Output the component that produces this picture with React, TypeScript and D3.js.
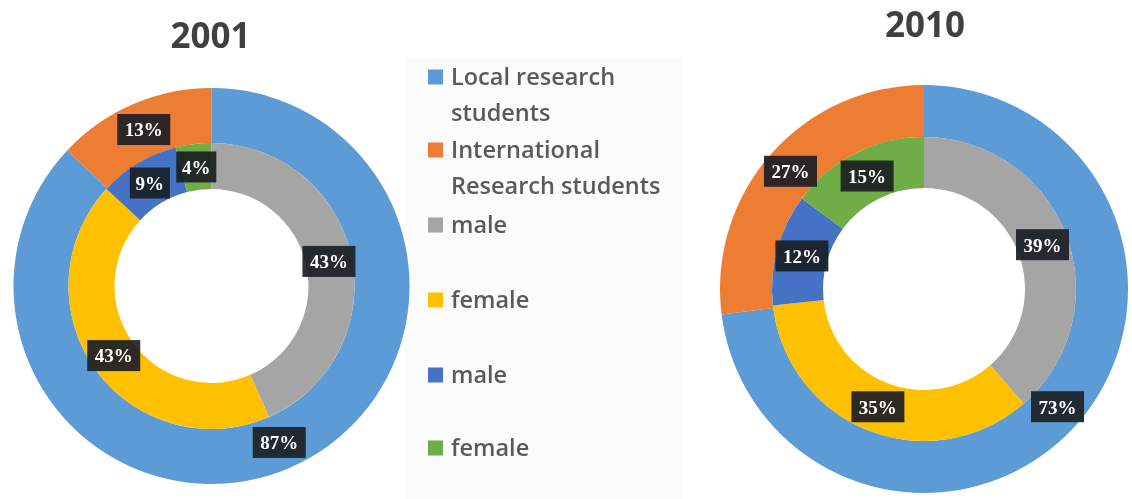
import React from "react";
import * as d3 from "d3";

const years = ["2001", "2010"];
const outerCategories = ["Local research students", "International Research students"];
const innerCategories = ["male", "female", "male", "female"];
const outer2001 = [87, 13];
const inner2001 = [43, 43, 9, 4];
const outer2010 = [73, 27];
const inner2010 = [39, 35, 12, 15];

const outerColors = ["#5B9BD5", "#ED7D31"];
const innerColors = ["#A5A5A5", "#FFC000", "#4472C4", "#70AD47"];

const legendLines = [
  { label: ["Local research", "students"], color: outerColors[0] },
  { label: ["International", "Research students"], color: outerColors[1] },
  { label: ["male"], color: innerColors[0] },
  { label: ["female"], color: innerColors[1] },
  { label: ["male"], color: innerColors[2] },
  { label: ["female"], color: innerColors[3] },
];

type Geo = { cx: number; cy: number; r0: number; r1: number; r2: number; tx: number; ty: number };

const charts: { year: string; outer: number[]; inner: number[]; g: Geo }[] = [
  { year: years[0], outer: outer2001, inner: inner2001, g: { cx: 211.5, cy: 286, r0: 97, r1: 143, r2: 198, tx: 210.5, ty: 48 } },
  { year: years[1], outer: outer2010, inner: inner2010, g: { cx: 924, cy: 289, r0: 101, r1: 152, r2: 204, tx: 925, ty: 37 } },
];

const pie = d3.pie<number>().sort(null).value((d) => d);

function Label({ x, y, text }: { x: number; y: number; text: string }) {
  const w = text.length * 13 + 14;
  const h = 31;
  return (
    <g transform={`translate(${x},${y})`}>
      <rect x={-w / 2} y={-h / 2} width={w} height={h} fill="#1c1f24" fillOpacity={0.92} />
      <text
        x={0}
        y={0}
        dy="0.36em"
        textAnchor="middle"
        fill="#ffffff"
        fontFamily="'Liberation Serif', serif"
        fontWeight="bold"
        fontSize={19}
      >
        {text}
      </text>
    </g>
  );
}

function Donut({ year, outer, inner, g }: { year: string; outer: number[]; inner: number[]; g: Geo }) {
  const outerArc = d3.arc<d3.PieArcDatum<number>>().innerRadius(g.r1).outerRadius(g.r2);
  const innerArc = d3.arc<d3.PieArcDatum<number>>().innerRadius(g.r0).outerRadius(g.r1);
  const oArcs = pie(outer);
  const iArcs = pie(inner);
  return (
    <g>
      <text
        x={g.tx}
        y={g.ty}
        textAnchor="middle"
        fontFamily="'Open Sans', sans-serif"
        fontWeight="bold"
        fontSize={35}
        fill="#404040"
      >
        {year}
      </text>
      <g transform={`translate(${g.cx},${g.cy})`}>
        {oArcs.map((a, i) => (
          <path key={"o" + i} d={outerArc(a) || ""} fill={outerColors[i]} />
        ))}
        {iArcs.map((a, i) => (
          <path key={"i" + i} d={innerArc(a) || ""} fill={innerColors[i]} />
        ))}
        {oArcs.map((a, i) => {
          const [x, y] = outerArc.centroid(a);
          return <Label key={"ol" + i} x={x} y={y} text={`${outer[i]}%`} />;
        })}
        {iArcs.map((a, i) => {
          const [x, y] = innerArc.centroid(a);
          return <Label key={"il" + i} x={x} y={y} text={`${inner[i]}%`} />;
        })}
      </g>
    </g>
  );
}

export default function App() {
  const legendY = [77, 150, 225, 300, 375, 448];
  return (
    <svg
      width={1132}
      height={499}
      style={{ position: "absolute", left: 0, top: 0, background: "#ffffff" }}
    >
      <defs>
        <filter id="soft" x="-5%" y="-5%" width="110%" height="110%">
          <feGaussianBlur stdDeviation="0.7" />
        </filter>
      </defs>
      <g filter="url(#soft)">
        <rect x={405} y={57} width={277} height={442} fill="#fbfbfb" />
        {charts.map((c) => (
          <Donut key={c.year} {...c} />
        ))}
        {legendLines.map((l, i) => (
          <g key={i}>
            <rect x={428} y={legendY[i] - 7.5} width={15} height={15} fill={l.color} />
            {l.label.map((t, j) => (
              <text
                key={j}
                x={451}
                y={legendY[i] + j * 36}
                dy="0.35em"
                fontFamily="'Open Sans', sans-serif"
                fontWeight={600}
                fontSize={23.5}
                fill="#5a5a5a"
              >
                {t}
              </text>
            ))}
          </g>
        ))}
      </g>
    </svg>
  );
}
